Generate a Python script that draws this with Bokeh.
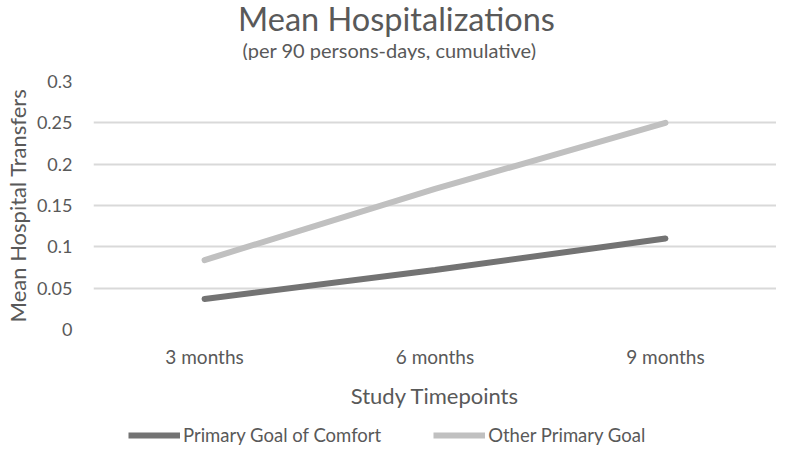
from bokeh.plotting import figure
from bokeh.layouts import column
from bokeh.models import Range1d, FactorRange, Label, Legend, LegendItem
from bokeh.embed import file_html
from bokeh.resources import INLINE

timepoints = ["3 months", "6 months", "9 months"]
comfort = [0.037, 0.072, 0.11]
other = [0.084, 0.17, 0.25]
y_ticks = [0, 0.05, 0.1, 0.15, 0.2, 0.25, 0.3]
y_tick_labels = ["0", "0.05", "0.1", "0.15", "0.2", "0.25", "0.3"]
series_names = ["Primary Goal of Comfort", "Other Primary Goal"]
series_values = [comfort, other]
series_colors = ["#737373", "#c0c0c0"]
title_text = "Mean Hospitalizations"
subtitle_text = "(per 90 persons-days, cumulative)"

FONT = "Lato"
TXT = "#595959"
W = 776

# --- title strip ---
t = figure(width=W, height=60, x_range=Range1d(0, 1), y_range=Range1d(0, 1),
           x_axis_type=None, y_axis_type=None, output_backend="svg", toolbar_location=None,
           min_border=0)
t.outline_line_color = None
t.grid.visible = False
t.add_layout(Label(x=303, y=42, x_units="screen", y_units="screen", text=title_text,
                   text_align="center", text_baseline="alphabetic", text_font=FONT,
                   text_font_size="32.5px", text_color=TXT))
t.add_layout(Label(x=296, y=11, x_units="screen", y_units="screen", text=subtitle_text,
                   text_align="center", text_baseline="alphabetic", text_font=FONT,
                   text_font_size="20px", text_color=TXT))

# --- main chart ---
p = figure(width=W, height=354,
           x_range=FactorRange(*timepoints, range_padding=-0.012, range_padding_units="percent"),
           y_range=Range1d(0, 0.3), output_backend="svg", toolbar_location=None,
           min_border_left=83, min_border_right=0, min_border_top=21, min_border_bottom=85)
p.title = None
p.outline_line_color = None

for vals, col in zip(series_values, series_colors):
    p.line(timepoints, vals, line_color=col, line_width=6, line_cap="round")

p.yaxis.ticker = y_ticks
p.yaxis.major_label_overrides = {tk: lb for tk, lb in zip(y_ticks, y_tick_labels)}
for ax in (p.xaxis[0], p.yaxis[0]):
    ax.axis_line_color = None
    ax.major_tick_line_color = None
    ax.minor_tick_line_color = None
    ax.major_label_text_font = FONT
    ax.major_label_text_color = TXT
    ax.axis_label_text_font = FONT
    ax.axis_label_text_font_size = "22px"
    ax.axis_label_text_font_style = "normal"
    ax.axis_label_text_color = TXT
p.xaxis.major_label_text_font_size = "19px"
p.yaxis.major_label_text_font_size = "18px"
p.yaxis.axis_label = "Mean Hospital Transfers"
p.xaxis.axis_label = "Study Timepoints"
p.yaxis.major_label_standoff = 15
p.yaxis.axis_label_standoff = 3
p.xaxis.major_label_standoff = 9
p.xaxis.axis_label_standoff = 11

p.xgrid.grid_line_color = None
p.ygrid.grid_line_color = "#d9d9d9"
p.ygrid.grid_line_width = 2

# --- legend strip (series drawn outside its visible range; only the legend shows) ---
lg = figure(width=W, height=32, x_range=FactorRange(*timepoints, range_padding=0),
            y_range=Range1d(10, 11), x_axis_type=None, y_axis_type=None,
            output_backend="svg", toolbar_location=None, min_border=0)
lg.outline_line_color = None
lg.grid.visible = False
items = []
for name, vals, col in zip(series_names, series_values, series_colors):
    r = lg.line(timepoints, vals, line_color=col, line_width=6)
    items.append(LegendItem(label=name, renderers=[r]))
legend = Legend(items=items, orientation="horizontal", location=(35, 0),
                label_text_font=FONT, label_text_font_size="18.5px", label_text_color=TXT,
                glyph_width=52, glyph_height=20, label_height=20, label_standoff=3,
                spacing=52, padding=0, margin=0,
                background_fill_alpha=0, border_line_color=None)
lg.add_layout(legend)

layout = column(t, p, lg, spacing=0)
open("out.html", "w").write(file_html(layout, INLINE))
